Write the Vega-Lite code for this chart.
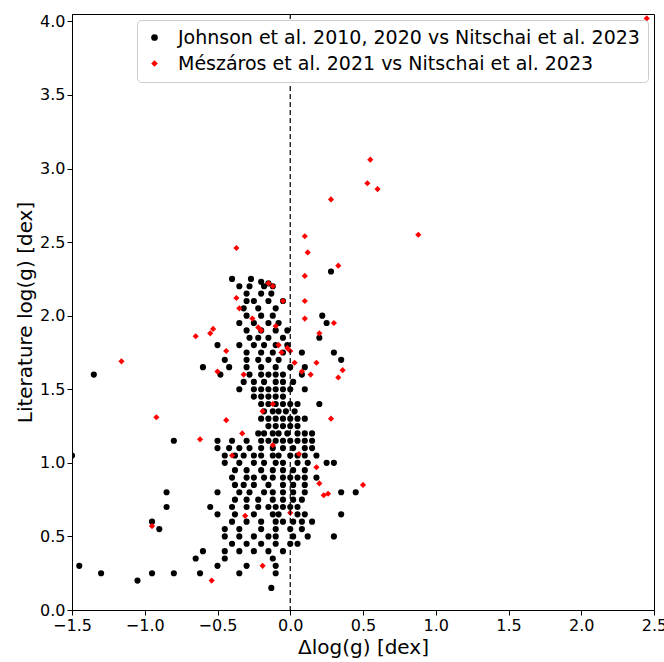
{"$schema":"https://vega.github.io/schema/vega-lite/v6.json","width":582,"height":596,"padding":{"left":72,"top":14,"right":10,"bottom":52},"autosize":{"type":"none"},"config":{"font":"DejaVu Sans","view":{"stroke":"black"}},
"datasets":{"J":[
{"x":-0.4,"y":2.25},{"x":-0.27,"y":2.25},{"x":-0.2,"y":2.23},{"x":-0.15,"y":2.22},{"x":0.28,"y":2.3},
{"x":-0.35,"y":2.2},{"x":-0.28,"y":2.2},{"x":-0.18,"y":2.2},{"x":-0.12,"y":2.2},
{"x":-0.3,"y":2.15},{"x":-0.2,"y":2.15},{"x":-0.13,"y":2.15},
{"x":-0.3,"y":2.1},{"x":-0.25,"y":2.1},{"x":-0.15,"y":2.1},{"x":-0.05,"y":2.1},
{"x":-0.32,"y":2.05},{"x":-0.22,"y":2.05},{"x":-0.1,"y":2.05},
{"x":-0.3,"y":2.0},{"x":-0.2,"y":2.0},{"x":-0.12,"y":2.0},{"x":0.22,"y":2.0},
{"x":-0.35,"y":1.95},{"x":-0.25,"y":1.95},{"x":-0.15,"y":1.95},{"x":-0.08,"y":1.95},{"x":0.25,"y":1.95},
{"x":-0.3,"y":1.9},{"x":-0.2,"y":1.9},{"x":-0.1,"y":1.9},{"x":-0.02,"y":1.9},
{"x":-0.28,"y":1.85},{"x":-0.22,"y":1.85},{"x":-0.15,"y":1.85},{"x":-0.05,"y":1.85},{"x":0.2,"y":1.85},
{"x":-0.5,"y":1.8},{"x":-0.35,"y":1.8},{"x":-0.25,"y":1.8},{"x":-0.18,"y":1.8},{"x":-0.1,"y":1.8},{"x":-0.02,"y":1.8},
{"x":-0.3,"y":1.75},{"x":-0.2,"y":1.75},{"x":-0.12,"y":1.75},{"x":-0.05,"y":1.75},{"x":0.08,"y":1.75},{"x":0.3,"y":1.75},
{"x":-0.45,"y":1.7},{"x":-0.3,"y":1.7},{"x":-0.22,"y":1.7},{"x":-0.15,"y":1.7},{"x":-0.08,"y":1.7},{"x":0.35,"y":1.7},
{"x":-0.6,"y":1.65},{"x":-0.42,"y":1.65},{"x":-0.3,"y":1.65},{"x":-0.2,"y":1.65},{"x":-0.1,"y":1.65},{"x":0.0,"y":1.65},{"x":0.1,"y":1.65},
{"x":-1.35,"y":1.6},{"x":-0.48,"y":1.6},{"x":-0.28,"y":1.6},{"x":-0.2,"y":1.6},{"x":-0.15,"y":1.6},{"x":-0.1,"y":1.6},{"x":-0.05,"y":1.6},{"x":0.08,"y":1.6},
{"x":-0.32,"y":1.55},{"x":-0.25,"y":1.55},{"x":-0.18,"y":1.55},{"x":-0.1,"y":1.55},{"x":-0.05,"y":1.55},{"x":0.02,"y":1.55},
{"x":-0.35,"y":1.5},{"x":-0.25,"y":1.5},{"x":-0.2,"y":1.5},{"x":-0.15,"y":1.5},{"x":-0.1,"y":1.5},{"x":-0.05,"y":1.5},{"x":0.0,"y":1.5},{"x":0.1,"y":1.5},
{"x":-0.25,"y":1.45},{"x":-0.2,"y":1.45},{"x":-0.15,"y":1.45},{"x":-0.1,"y":1.45},{"x":-0.05,"y":1.45},
{"x":-0.2,"y":1.4},{"x":-0.15,"y":1.4},{"x":-0.1,"y":1.4},{"x":-0.05,"y":1.4},{"x":0.0,"y":1.4},{"x":0.05,"y":1.4},{"x":0.2,"y":1.4},
{"x":-0.18,"y":1.35},{"x":-0.12,"y":1.35},{"x":-0.08,"y":1.35},{"x":-0.03,"y":1.35},{"x":0.03,"y":1.35},
{"x":-0.2,"y":1.3},{"x":-0.15,"y":1.3},{"x":-0.1,"y":1.3},{"x":-0.05,"y":1.3},{"x":0.0,"y":1.3},{"x":0.05,"y":1.3},{"x":0.1,"y":1.3},
{"x":-0.15,"y":1.25},{"x":-0.1,"y":1.25},{"x":-0.05,"y":1.25},{"x":0.0,"y":1.25},{"x":0.05,"y":1.25},
{"x":-0.22,"y":1.2},{"x":-0.18,"y":1.2},{"x":-0.12,"y":1.2},{"x":-0.08,"y":1.2},{"x":-0.02,"y":1.2},{"x":0.05,"y":1.2},{"x":0.1,"y":1.2},{"x":0.15,"y":1.2},
{"x":-0.8,"y":1.15},{"x":-0.5,"y":1.15},{"x":-0.4,"y":1.15},{"x":-0.3,"y":1.15},{"x":-0.2,"y":1.15},{"x":-0.15,"y":1.15},{"x":-0.1,"y":1.15},{"x":-0.05,"y":1.15},{"x":0.0,"y":1.15},{"x":0.05,"y":1.15},{"x":0.1,"y":1.15},{"x":0.15,"y":1.15},
{"x":-0.5,"y":1.1},{"x":-0.42,"y":1.1},{"x":-0.35,"y":1.1},{"x":-0.28,"y":1.1},{"x":-0.2,"y":1.1},{"x":-0.12,"y":1.1},{"x":-0.05,"y":1.1},{"x":0.02,"y":1.1},{"x":0.1,"y":1.1},{"x":0.15,"y":1.1},
{"x":-1.5,"y":1.05},{"x":-0.45,"y":1.05},{"x":-0.38,"y":1.05},{"x":-0.32,"y":1.05},{"x":-0.25,"y":1.05},{"x":-0.2,"y":1.05},{"x":-0.12,"y":1.05},{"x":-0.08,"y":1.05},{"x":0.0,"y":1.05},{"x":0.05,"y":1.05},{"x":0.1,"y":1.05},{"x":0.18,"y":1.05},
{"x":-0.45,"y":1.0},{"x":-0.35,"y":1.0},{"x":-0.25,"y":1.0},{"x":-0.18,"y":1.0},{"x":-0.1,"y":1.0},{"x":-0.05,"y":1.0},{"x":0.05,"y":1.0},{"x":0.12,"y":1.0},{"x":0.25,"y":1.0},{"x":0.3,"y":1.0},
{"x":-0.38,"y":0.95},{"x":-0.3,"y":0.95},{"x":-0.2,"y":0.95},{"x":-0.12,"y":0.95},{"x":-0.05,"y":0.95},{"x":0.02,"y":0.95},{"x":0.1,"y":0.95},
{"x":-0.4,"y":0.9},{"x":-0.3,"y":0.9},{"x":-0.25,"y":0.9},{"x":-0.18,"y":0.9},{"x":-0.12,"y":0.9},{"x":-0.05,"y":0.9},{"x":0.0,"y":0.9},{"x":0.05,"y":0.9},{"x":0.1,"y":0.9},{"x":0.18,"y":0.9},
{"x":-0.38,"y":0.85},{"x":-0.32,"y":0.85},{"x":-0.25,"y":0.85},{"x":-0.15,"y":0.85},{"x":-0.05,"y":0.85},{"x":0.02,"y":0.85},{"x":0.1,"y":0.85},
{"x":-0.85,"y":0.8},{"x":-0.5,"y":0.8},{"x":-0.35,"y":0.8},{"x":-0.28,"y":0.8},{"x":-0.18,"y":0.8},{"x":-0.12,"y":0.8},{"x":-0.05,"y":0.8},{"x":0.02,"y":0.8},{"x":0.1,"y":0.8},{"x":0.35,"y":0.8},{"x":0.45,"y":0.8},
{"x":-0.38,"y":0.75},{"x":-0.3,"y":0.75},{"x":-0.22,"y":0.75},{"x":-0.12,"y":0.75},{"x":-0.05,"y":0.75},{"x":0.02,"y":0.75},{"x":0.08,"y":0.75},
{"x":-0.85,"y":0.7},{"x":-0.55,"y":0.7},{"x":-0.4,"y":0.7},{"x":-0.3,"y":0.7},{"x":-0.22,"y":0.7},{"x":-0.15,"y":0.7},{"x":-0.1,"y":0.7},{"x":-0.05,"y":0.7},{"x":0.0,"y":0.7},{"x":0.05,"y":0.7},
{"x":-0.5,"y":0.65},{"x":-0.38,"y":0.65},{"x":-0.25,"y":0.65},{"x":-0.12,"y":0.65},{"x":-0.08,"y":0.65},{"x":0.05,"y":0.65},{"x":0.1,"y":0.65},{"x":0.35,"y":0.65},
{"x":-0.95,"y":0.6},{"x":-0.4,"y":0.6},{"x":-0.3,"y":0.6},{"x":-0.2,"y":0.6},{"x":-0.1,"y":0.6},{"x":-0.05,"y":0.6},{"x":0.02,"y":0.6},{"x":0.08,"y":0.6},{"x":0.15,"y":0.6},
{"x":-0.9,"y":0.55},{"x":-0.45,"y":0.55},{"x":-0.35,"y":0.55},{"x":-0.2,"y":0.55},{"x":-0.1,"y":0.55},{"x":0.0,"y":0.55},{"x":0.08,"y":0.55},
{"x":-0.45,"y":0.5},{"x":-0.35,"y":0.5},{"x":-0.25,"y":0.5},{"x":-0.15,"y":0.5},{"x":-0.1,"y":0.5},{"x":0.02,"y":0.5},{"x":0.12,"y":0.5},{"x":0.3,"y":0.5},
{"x":-0.4,"y":0.45},{"x":-0.3,"y":0.45},{"x":-0.2,"y":0.45},{"x":-0.1,"y":0.45},{"x":0.0,"y":0.45},{"x":0.05,"y":0.45},
{"x":-0.6,"y":0.4},{"x":-0.45,"y":0.4},{"x":-0.35,"y":0.4},{"x":-0.25,"y":0.4},{"x":-0.15,"y":0.4},{"x":-0.05,"y":0.4},
{"x":-0.65,"y":0.35},{"x":-0.45,"y":0.35},{"x":-0.12,"y":0.35},
{"x":-1.45,"y":0.3},{"x":-0.5,"y":0.3},{"x":-0.3,"y":0.3},{"x":-0.1,"y":0.3},
{"x":-1.3,"y":0.25},{"x":-0.95,"y":0.25},{"x":-0.8,"y":0.25},{"x":-0.62,"y":0.25},{"x":-0.35,"y":0.25},{"x":-0.1,"y":0.25},
{"x":-1.05,"y":0.2},{"x":-0.13,"y":0.15}],
"M":[
{"x":2.45,"y":4.02},{"x":0.55,"y":3.06},{"x":0.53,"y":2.9},{"x":0.6,"y":2.86},{"x":0.88,"y":2.55},{"x":0.28,"y":2.79},
{"x":0.1,"y":2.54},{"x":0.12,"y":2.43},{"x":0.33,"y":2.34},{"x":-0.37,"y":2.46},{"x":0.1,"y":2.27},{"x":-0.15,"y":2.22},{"x":-0.12,"y":2.2},
{"x":0.1,"y":2.1},{"x":-0.05,"y":2.1},{"x":-0.37,"y":2.12},{"x":-0.35,"y":2.05},{"x":-0.65,"y":1.86},{"x":-0.53,"y":1.91},{"x":-0.55,"y":1.88},
{"x":-1.16,"y":1.69},{"x":0.3,"y":1.95},{"x":0.1,"y":1.98},{"x":0.2,"y":1.88},{"x":-0.08,"y":1.8},{"x":-0.02,"y":1.78},{"x":0.0,"y":1.76},
{"x":0.33,"y":1.58},{"x":0.36,"y":1.63},{"x":0.08,"y":1.62},{"x":0.14,"y":1.6},{"x":0.03,"y":1.68},{"x":-0.32,"y":1.6},{"x":-0.5,"y":1.62},{"x":-0.44,"y":1.76},
{"x":-0.2,"y":1.9},{"x":-0.22,"y":1.92},{"x":-0.26,"y":1.98},{"x":-0.1,"y":1.93},{"x":-0.06,"y":1.75},{"x":0.18,"y":1.68},
{"x":-0.44,"y":1.29},{"x":-0.19,"y":1.35},{"x":-0.12,"y":1.4},{"x":-0.92,"y":1.31},{"x":0.28,"y":1.3},{"x":-0.33,"y":1.2},{"x":-0.12,"y":1.12},{"x":-0.62,"y":1.16},
{"x":-0.4,"y":1.05},{"x":0.06,"y":1.06},{"x":0.18,"y":0.97},{"x":0.2,"y":0.86},{"x":0.23,"y":0.78},{"x":0.26,"y":0.79},{"x":0.5,"y":0.85},
{"x":-0.31,"y":0.64},{"x":-0.95,"y":0.57},{"x":-0.19,"y":0.3},{"x":-0.54,"y":0.2},{"x":0.0,"y":0.66}]},
"layer":[
{"data":{"name":"J"},"mark":{"type":"point","shape":"circle","filled":true,"size":38,"opacity":1,"clip":true},
"encoding":{"x":{"field":"x","type":"quantitative","scale":{"domain":[-1.5,2.5],"nice":false},"axis":{"values":[-1.5,-1,-0.5,0,0.5,1,1.5,2,2.5],"format":".1f","title":"Δlog(g) [dex]","grid":false,"labelFontSize":16,"titleFontSize":20,"titleFontWeight":"normal","labelColor":"black","titleColor":"black","domainColor":"black","tickColor":"black","labelFlush":false}},
"y":{"field":"y","type":"quantitative","scale":{"domain":[0,4.05],"nice":false},"axis":{"values":[0,0.5,1,1.5,2,2.5,3,3.5,4],"format":".1f","title":"Literature log(g) [dex]","grid":false,"labelFontSize":16,"titleFontSize":20,"titleFontWeight":"normal","labelColor":"black","titleColor":"black","domainColor":"black","tickColor":"black"}},
"color":{"datum":"Johnson et al. 2010, 2020 vs Nitschai et al. 2023","type":"nominal","scale":{"domain":["Johnson et al. 2010, 2020 vs Nitschai et al. 2023","Mészáros et al. 2021 vs Nitschai et al. 2023"],"range":["black","red"]},"legend":{"orient":"top-right","offset":6,"title":null,"labelFontSize":19,"labelColor":"black","labelLimit":600,"strokeColor":"#ccc","fillColor":"white","padding":8,"cornerRadius":4,"symbolSize":45,"rowPadding":6,"labelOffset":14}},
"shape":{"datum":"Johnson et al. 2010, 2020 vs Nitschai et al. 2023","type":"nominal","scale":{"domain":["Johnson et al. 2010, 2020 vs Nitschai et al. 2023","Mészáros et al. 2021 vs Nitschai et al. 2023"],"range":["circle","diamond"]}}}},
{"data":{"name":"M"},"mark":{"type":"point","shape":"diamond","filled":true,"size":38,"opacity":1,"clip":true},
"encoding":{"x":{"field":"x","type":"quantitative"},"y":{"field":"y","type":"quantitative"},
"color":{"datum":"Mészáros et al. 2021 vs Nitschai et al. 2023","type":"nominal"},"shape":{"datum":"Mészáros et al. 2021 vs Nitschai et al. 2023","type":"nominal"}}},
{"data":{"values":[{"x":0}]},"mark":{"type":"rule","strokeDash":[5,3],"color":"black","strokeWidth":1.2},"encoding":{"x":{"field":"x","type":"quantitative"}}}
]}
